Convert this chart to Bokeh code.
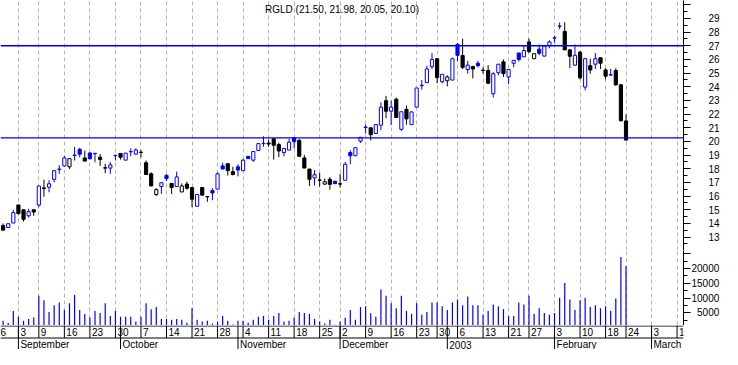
import pandas as pd
from bokeh.plotting import figure
from bokeh.layouts import column
from bokeh.models import Range1d, FixedTicker, Span, Label, ColumnDataSource
from bokeh.core.properties import value
from bokeh.embed import file_html
from bokeh.resources import INLINE

# ---------------- data ----------------
symbol = "RGLD"
first_session = "2002-08-28"
calendar_start = "2002-08-26"
calendar_end = "2003-03-14"
holidays = ["2002-09-02", "2002-11-28", "2002-12-25", "2003-01-01", "2003-01-20", "2003-02-17"]
prior_close = 13.95

opens = [13.84, 13.70, 14.03, 15.35, 15.00, 14.56, 15.00, 15.35, 16.60, 16.65,
         17.23, 17.95, 18.21, 18.14, 18.97, 19.42, 18.79, 19.16, 19.10, 18.84,
         18.07, 18.05, 18.96, 19.12, 18.63, 19.24, 19.07, 19.21, 18.44, 17.63,
         16.12, 16.70, 17.51, 16.93, 16.70, 16.30, 16.88, 16.63, 15.26, 16.63,
         15.97, 16.40, 16.51, 18.21, 18.37, 17.79, 18.14, 17.86, 18.91, 18.63,
         19.33, 19.84, 19.88, 20.19, 19.77, 19.19, 19.37, 20.26, 20.07, 18.79,
         17.98, 17.33, 17.18, 16.88, 17.23, 17.09, 16.90, 17.16, 19.19, 18.95,
         20.02, 21.02, 21.00, 20.58, 21.19, 22.98, 22.21, 23.09, 20.89, 22.35,
         21.23, 22.51, 24.08, 24.30, 25.47, 26.05, 24.37, 24.44, 24.49, 27.10,
         26.28, 25.26, 25.49, 25.72, 25.21, 25.19, 23.49, 25.03, 25.82, 24.72,
         25.72, 26.47, 26.19, 27.28, 26.05, 26.75, 26.24, 27.00, 27.56, 28.42,
         28.05, 26.70, 25.58, 26.53, 23.98, 25.54, 25.65, 26.12, 25.23, 24.86,
         25.19, 24.14, 21.50]
highs = [14.00, 13.98, 15.00, 15.35, 15.00, 15.07, 15.00, 16.74, 17.20, 17.16,
         17.86, 18.26, 18.95, 18.74, 19.60, 19.53, 19.33, 19.16, 19.14, 19.07,
         18.37, 18.49, 19.02, 19.12, 19.14, 19.49, 19.49, 19.37, 18.60, 17.74,
         16.58, 16.98, 17.63, 16.93, 17.79, 16.93, 17.05, 16.63, 16.12, 16.63,
         15.97, 16.58, 17.74, 18.44, 18.37, 18.14, 18.33, 18.72, 18.91, 19.30,
         19.88, 20.37, 20.14, 20.19, 19.91, 19.49, 20.19, 20.30, 20.19, 19.02,
         17.98, 17.91, 17.70, 17.28, 17.40, 17.09, 17.63, 18.49, 19.37, 19.54,
         20.30, 21.23, 21.00, 21.23, 22.86, 23.33, 22.98, 23.21, 22.17, 22.63,
         22.16, 23.91, 24.49, 25.54, 26.47, 26.05, 24.91, 24.84, 26.12, 27.20,
         27.51, 25.89, 25.49, 25.89, 25.42, 25.58, 25.07, 25.65, 26.00, 25.26,
         25.93, 26.47, 27.05, 27.51, 26.42, 27.09, 26.98, 27.40, 27.74, 28.70,
         28.72, 26.70, 27.09, 26.63, 26.12, 26.05, 26.47, 26.12, 25.35, 25.30,
         25.35, 24.21, 21.98]
lows = [13.50, 13.70, 14.03, 14.65, 14.14, 14.42, 14.56, 15.19, 15.95, 16.28,
        17.00, 17.63, 18.14, 17.98, 18.60, 18.84, 18.56, 18.67, 18.47, 18.21,
        17.68, 17.63, 18.60, 18.67, 18.63, 18.91, 19.02, 18.84, 17.58, 16.74,
        16.00, 16.16, 17.10, 16.16, 16.70, 16.30, 16.47, 15.19, 15.26, 16.07,
        15.58, 15.70, 16.51, 17.98, 17.51, 17.51, 17.44, 17.86, 18.74, 18.51,
        19.33, 19.61, 19.61, 18.67, 18.86, 18.91, 19.37, 19.49, 18.91, 18.05,
        16.74, 16.77, 16.70, 16.81, 16.47, 16.91, 16.63, 17.16, 18.33, 18.95,
        19.89, 20.58, 20.07, 20.58, 20.82, 21.70, 21.19, 21.75, 20.77, 21.23,
        21.23, 22.51, 23.79, 24.30, 25.30, 24.26, 24.26, 24.03, 24.49, 25.85,
        25.30, 24.96, 24.61, 25.42, 24.96, 24.19, 23.21, 24.84, 24.72, 24.19,
        25.42, 25.84, 26.19, 26.47, 26.05, 26.30, 26.24, 26.81, 27.21, 28.21,
        26.70, 25.37, 25.54, 24.54, 23.74, 24.95, 25.30, 25.30, 24.54, 24.77,
        24.07, 21.47, 20.05]
closes = [13.51, 13.98, 14.79, 14.72, 14.30, 14.86, 14.84, 16.74, 16.56, 16.90,
          17.86, 17.98, 18.79, 18.74, 19.00, 19.07, 18.56, 18.74, 19.13, 18.67,
          18.05, 18.28, 18.98, 18.84, 19.14, 19.26, 19.37, 19.19, 17.58, 16.74,
          16.47, 16.98, 17.28, 16.63, 17.40, 16.74, 16.58, 15.77, 16.12, 16.07,
          15.95, 16.23, 17.63, 17.98, 17.86, 17.58, 17.91, 18.63, 18.74, 19.26,
          19.84, 19.86, 19.81, 19.72, 19.30, 19.49, 19.94, 19.98, 18.91, 18.05,
          17.23, 17.56, 17.16, 17.05, 16.86, 16.91, 16.88, 18.33, 18.95, 19.54,
          20.30, 21.05, 20.49, 21.23, 22.51, 22.21, 22.51, 21.75, 22.17, 21.65,
          22.16, 23.91, 24.10, 25.30, 26.00, 24.67, 24.91, 24.72, 26.05, 26.30,
          25.42, 25.58, 25.30, 25.54, 25.19, 24.26, 24.95, 25.65, 24.96, 25.26,
          25.93, 26.00, 26.65, 26.58, 26.42, 26.45, 26.98, 27.28, 27.58, 28.44,
          26.70, 26.23, 26.30, 24.65, 26.05, 25.23, 26.05, 25.72, 24.77, 24.88,
          24.14, 21.51, 20.10]
volumes = [2300, 1500, 5600, 3600, 2300, 2900, 3400, 10800, 9200, 5200,
           7500, 8500, 5900, 8200, 11000, 5900, 4600, 3400, 5600, 4900,
           8200, 3900, 5600, 3600, 3600, 3600, 2000, 3600, 8200, 6200,
           6900, 2900, 2900, 2600, 2900, 2600, 1600, 6500, 2600, 2000,
           2300, 1300, 2000, 3900, 2300, 1000, 2300, 2300, 1600, 2600,
           3600, 3900, 2600, 3900, 4900, 2000, 2300, 3300, 5200, 4900,
           4600, 2900, 2000, 1300, 2600, 900, 2000, 3300, 5900, 2600,
           6900, 7200, 4800, 3600, 12900, 10800, 8200, 6500, 10800, 5600,
           4600, 8200, 4300, 5200, 8500, 8500, 7200, 5900, 8500, 9500,
           7500, 10500, 7500, 7500, 4300, 5600, 7800, 7200, 6200, 3900,
           3900, 8500, 7800, 10800, 4600, 6500, 4900, 4300, 4900, 10100,
           15100, 9500, 5900, 9200, 10100, 6900, 7500, 6500, 7200, 5600,
           9800, 23900, 20900]

resistance_level = 27.0
support_level = 20.26

price_ticks = list(range(13, 31))
price_minor_ticks = [t + 0.5 for t in range(12, 31)]
volume_ticks = [5000, 10000, 15000, 20000, 25000]
volume_minor_ticks = [2500, 7500, 12500, 17500, 22500, 27500]

# ---------------- styling ----------------
FONT = "Liberation Sans"
BLUE = "#0000ff"
LINE_BLUE = "#0000ee"
GRID = "#b4b4b4"
FRAME_W = 683
RIGHT_W = 39

# ---------------- trading calendar ----------------
cal = pd.bdate_range(calendar_start, calendar_end, freq="C", holidays=holidays)
offset = cal.get_loc(pd.Timestamp(first_session))
positions = [i - offset for i in range(len(cal))]

week_pos, week_lbl, month_pos, month_lbl = [], [], [], []
for i, d in enumerate(cal):
    prev = cal[i - 1] if i > 0 else None
    new_week = (d.weekday() == 0) if prev is None else (d.isocalendar()[1] != prev.isocalendar()[1])
    if new_week:
        week_pos.append(positions[i])
        week_lbl.append(str(d.day))
    if prev is not None and d.month != prev.month:
        month_pos.append(positions[i])
        month_lbl.append(str(d.year) if d.month == 1 else d.strftime("%B"))

n = len(closes)
xs = list(range(n))
prev_closes = [prior_close] + closes[:-1]
colors = [BLUE if c > pc else "black" for c, pc in zip(closes, prev_closes)]
fills = [col if c < o else "white" for col, o, c in zip(colors, opens, closes)]
src = ColumnDataSource(dict(
    x=xs, open=opens, high=highs, low=lows, close=closes, volume=volumes,
    top=[max(o, c) for o, c in zip(opens, closes)],
    bot=[min(o, c) for o, c in zip(opens, closes)],
    color=colors, fill=fills,
))

x_range = Range1d(-0.51, 133.26)


def base_fig(height, y_range, y_loc):
    f = figure(frame_width=FRAME_W, frame_height=height, x_range=x_range, y_range=y_range,
               output_backend="svg", toolbar_location=None,
               x_axis_location=None, y_axis_location=y_loc,
               min_border_left=0, min_border_right=RIGHT_W,
               min_border_top=0, min_border_bottom=0)
    f.outline_line_color = None
    f.background_fill_color = "white"
    f.border_fill_color = "white"
    f.ygrid.visible = False
    return f


def style_axis(ax, standoff):
    ax.axis_line_color = "black"
    ax.major_tick_line_color = "black"
    ax.minor_tick_line_color = "black"
    ax.major_tick_out = 7
    ax.major_tick_in = 0
    ax.minor_tick_out = 4
    ax.minor_tick_in = 0
    ax.major_label_text_font = FONT
    ax.major_label_text_font_size = "10px"
    ax.major_label_text_color = "black"
    ax.major_label_standoff = standoff


# ---------------- price panel ----------------
p = base_fig(250, Range1d(12.02, 30.31), "right")
p.xgrid.ticker = FixedTicker(ticks=week_pos)
p.xgrid.grid_line_color = GRID
p.xgrid.grid_line_dash = "4 3"
ax = p.yaxis[0]
ax.ticker = FixedTicker(ticks=price_ticks, minor_ticks=price_minor_ticks)
ax.major_label_overrides = {30: ""}
style_axis(ax, 18)

p.segment(x0="x", y0="low", x1="x", y1="high", line_color="color", line_width=1, source=src)
p.vbar(x="x", width=0.62, top="top", bottom="bot", fill_color="fill",
       line_color="color", line_width=1, source=src)

for lvl in (resistance_level, support_level):
    p.add_layout(Span(location=lvl, dimension="width", line_color=LINE_BLUE, line_width=1.3))

title = f"{symbol} ({opens[-1]:.2f}, {highs[-1]:.2f}, {lows[-1]:.2f}, {closes[-1]:.2f})"
p.add_layout(Label(x=(x_range.start + x_range.end) / 2, y=29.68, text=title,
                   text_align="center", text_baseline="middle",
                   text_font=FONT, text_font_size="10px", text_color="black"))

# ---------------- volume panel ----------------
pv = base_fig(75, Range1d(654, 26144), "right")
pv.xgrid.ticker = FixedTicker(ticks=week_pos)
pv.xgrid.grid_line_color = GRID
pv.xgrid.grid_line_dash = "4 3"
axv = pv.yaxis[0]
axv.ticker = FixedTicker(ticks=volume_ticks, minor_ticks=volume_minor_ticks)
axv.major_label_overrides = {5000: "\u20075000", 25000: ""}
style_axis(axv, 1)
pv.segment(x0="x", y0=0, x1="x", y1="volume", line_color=BLUE, line_width=1.2, source=src)

# ---------------- date axis strip ----------------
ps = base_fig(24, Range1d(24, 0), None)
ps.xgrid.visible = False
ps.add_layout(Span(location=0.5, dimension="width", line_color="black", line_width=1))
ps.add_layout(Span(location=12.5, dimension="width", line_color="black", line_width=1))
ps.segment(x0=week_pos, y0=[0] * len(week_pos), x1=week_pos, y1=[12.5] * len(week_pos),
           line_color="black", line_width=1)
ps.segment(x0=month_pos, y0=[0] * len(month_pos), x1=month_pos, y1=[24] * len(month_pos),
           line_color="black", line_width=1)
ps.text(x=week_pos, y=[6.8] * len(week_pos), text=week_lbl, text_align="left",
        text_baseline="middle", x_offset=2, text_font=value(FONT), text_font_size="10px",
        text_color="black")
ps.text(x=month_pos, y=[19] * len(month_pos), text=month_lbl, text_align="left",
        text_baseline="middle", x_offset=2, text_font=value(FONT), text_font_size="10px",
        text_color="black")

layout = column(p, pv, ps, spacing=0)
open("out.html", "w").write(file_html(layout, INLINE))
